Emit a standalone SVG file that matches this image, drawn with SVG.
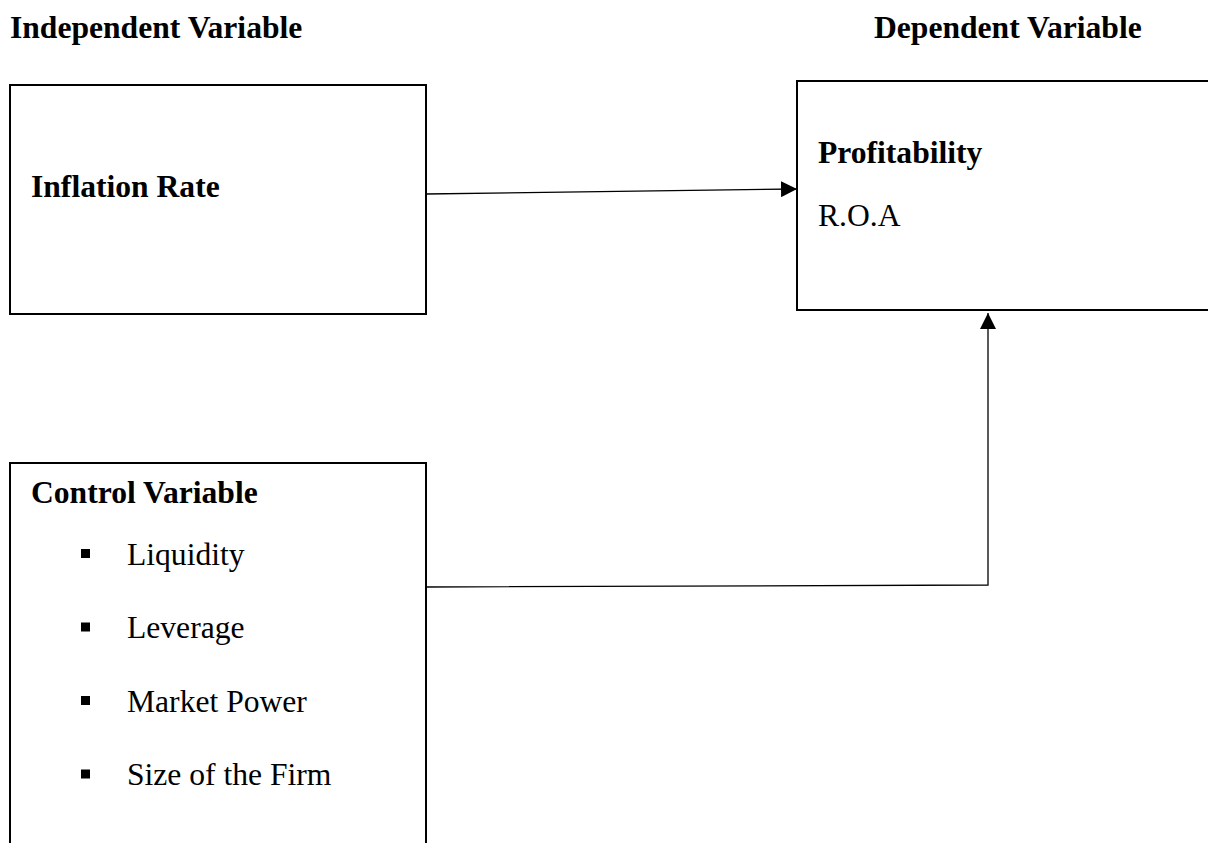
<svg xmlns="http://www.w3.org/2000/svg" width="1208" height="843" viewBox="0 0 1208 843">
  <style>
    .box { fill: #ffffff; stroke: #000000; stroke-width: 2; }
    .conn { fill: none; stroke: #000000; stroke-width: 1.3; }
    .b { font-family: "Liberation Serif", "Times New Roman", serif; font-weight: bold; font-size: 31.6px; fill: #000000; }
    .r { font-family: "Liberation Serif", "Times New Roman", serif; font-size: 31.6px; fill: #000000; }
    .bullet { fill: #000000; }
  </style>
  <defs>
    <marker id="arrow" markerUnits="userSpaceOnUse" markerWidth="16" markerHeight="16" viewBox="0 0 16 16" refX="16" refY="8" orient="auto">
      <path d="M0,0 L16,8 L0,16 Z" fill="#000000"/>
    </marker>
  </defs>
  <rect width="1208" height="843" fill="#ffffff"/>

  <g id="headers">
    <text class="b" x="10" y="38">Independent Variable</text>
    <text class="b" x="874" y="38">Dependent Variable</text>
  </g>

  <g id="connectors">
    <line class="conn" x1="426" y1="194" x2="797" y2="189" marker-end="url(#arrow)"/>
    <polyline class="conn" points="426,587 988,585 988,313" marker-end="url(#arrow)"/>
  </g>

  <g id="node-inflation">
    <rect class="box" x="10" y="85" width="416" height="229"/>
    <text class="b" x="31" y="197">Inflation Rate</text>
  </g>

  <g id="node-profitability">
    <rect class="box" x="797" y="81" width="420" height="229"/>
    <text class="b" x="818" y="163">Profitability</text>
    <text class="r" x="818" y="226">R.O.A</text>
  </g>

  <g id="node-control">
    <rect class="box" x="10" y="463" width="416" height="400"/>
    <text class="b" x="31" y="503">Control Variable</text>
    <rect class="bullet" x="81" y="549" width="9" height="9"/>
    <text class="r" x="127" y="564.5">Liquidity</text>
    <rect class="bullet" x="81" y="622.5" width="9" height="9"/>
    <text class="r" x="127" y="638">Leverage</text>
    <rect class="bullet" x="81" y="696" width="9" height="9"/>
    <text class="r" x="127" y="711.5">Market Power</text>
    <rect class="bullet" x="81" y="769.5" width="9" height="9"/>
    <text class="r" x="127" y="785">Size of the Firm</text>
  </g>
</svg>
